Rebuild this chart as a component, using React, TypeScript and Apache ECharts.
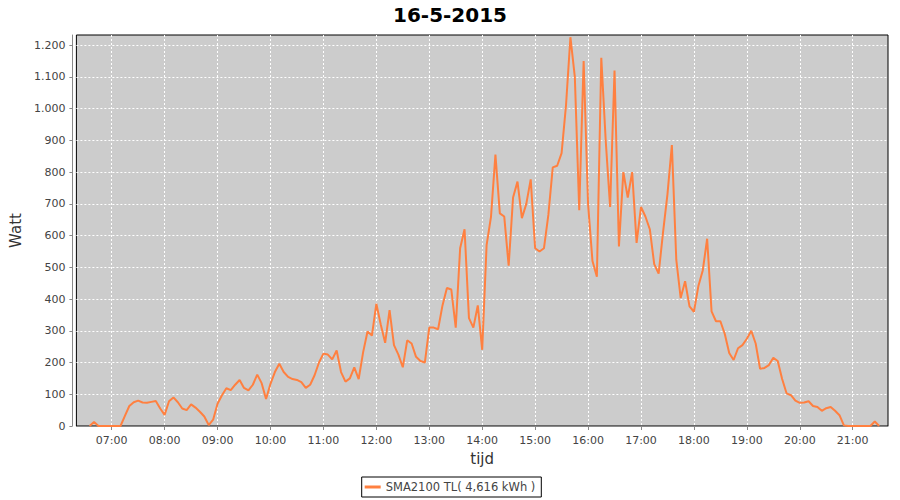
import React, { useEffect, useRef } from "react";
import * as echarts from "echarts";

// time categories: 06:20 .. 21:40 every 5 minutes
const categories: string[] = [];
for (let m = 6 * 60 + 20; m <= 21 * 60 + 40; m += 5) {
  const h = Math.floor(m / 60);
  const mm = m % 60;
  categories.push(`${h < 10 ? "0" : ""}${h}:${mm < 10 ? "0" : ""}${mm}`);
}

// Watt values, one per 5 minutes
const early: (number | null)[] = [
  null, null, null, 0, 13, 0, 0, 0, 0, 0, 0, 32, 63, 75, 80, 74, 73, 76, 79, 55,
];
const morning: (number | null)[] = [
  35, 78, 90, 75, 55, 50, 68, 58, 45, 30, 3, 20, 70, 97, 119, 113, 130, 145, 120, 112,
  130, 162, 135, 85, 133, 170, 196, 170, 155, 148, 145, 138, 120, 130, 160, 200,
];
const midday: (number | null)[] = [
  228, 225, 210, 238, 170, 140, 150, 185, 148, 232, 298, 285, 385, 320, 262, 365, 255, 225,
  185, 270, 260, 218, 205, 200, 310, 310, 305, 380, 435, 430, 310, 560, 620, 340, 310, 380,
];
const afternoon: (number | null)[] = [
  240, 570, 660, 855, 670, 660, 505, 720, 770, 655, 700, 777, 560, 550, 560, 665, 815, 820,
  860, 1010, 1225, 1100, 680, 1150, 700, 520, 470, 1160, 900, 690, 1120, 566, 800, 720, 800, 577,
];
const evening: (number | null)[] = [
  690, 660, 620, 510, 480, 610, 730, 885, 524, 403, 456, 377, 360, 440, 490, 590, 361, 330,
  330, 290, 230, 208, 245, 255, 275, 300, 260, 180, 183, 192, 215, 205, 148, 103, 97, 80,
];
const night: (number | null)[] = [
  73, 74, 78, 63, 60, 48, 56, 60, 48, 34, 2, 0, 0, 0, 0, 0, 0, 14, 0, null, null, null,
];
const watts = [...early, ...morning, ...midday, ...afternoon, ...evening, ...night];

const seriesName = "SMA2100 TL( 4,616 kWh )";
const titleText = "16-5-2015";
const FONT = "DejaVu Sans";

const isHour = (_i: number, v: string) => typeof v === "string" && v.endsWith(":00");

export default function App() {
  const ref = useRef<HTMLDivElement>(null);
  useEffect(() => {
    if (!ref.current) return;
    const chart = echarts.init(ref.current, undefined, { renderer: "svg" });
    chart.setOption({
      animation: false,
      backgroundColor: "#ffffff",
      textStyle: { fontFamily: FONT },
      title: {
        text: titleText,
        left: "center",
        top: 0,
        textStyle: { fontSize: 20, fontWeight: "bold", color: "#000", fontFamily: FONT },
      },
      grid: {
        left: 75,
        right: 12,
        top: 35,
        bottom: 74,
        show: true,
        backgroundColor: "#cccccc",
        borderColor: "#000",
        borderWidth: 1,
      },
      legend: {
        top: 477,
        left: "center",
        icon: "rect",
        itemWidth: 16,
        itemHeight: 3,
        borderColor: "#000",
        borderWidth: 1,
        borderRadius: 0,
        padding: [4, 6, 4, 3],
        textStyle: { fontSize: 11.5, color: "#444", fontFamily: FONT },
        data: [seriesName],
      },
      xAxis: {
        type: "category",
        data: categories,
        boundaryGap: false,
        offset: 4,
        name: "tijd",
        nameLocation: "middle",
        nameGap: 21,
        nameTextStyle: { fontSize: 15, color: "#333", fontFamily: FONT },
        axisLine: { show: true, lineStyle: { color: "#888", width: 1 } },
        axisTick: { show: true, interval: isHour, length: 4, lineStyle: { color: "#888" } },
        axisLabel: { interval: isHour, color: "#444", fontSize: 11, margin: 5, fontFamily: FONT },
        splitLine: {
          show: true,
          interval: isHour,
          lineStyle: { color: "#ffffff", type: [2, 2], width: 1 },
        },
      },
      yAxis: {
        type: "value",
        min: 0,
        max: 1232,
        interval: 100,
        offset: 4,
        name: "Watt",
        nameLocation: "middle",
        nameGap: 42,
        nameTextStyle: { fontSize: 15, color: "#333", fontFamily: FONT },
        axisLine: { show: true, lineStyle: { color: "#888", width: 1 } },
        axisTick: { show: true, length: 3, lineStyle: { color: "#888" } },
        axisLabel: {
          color: "#444",
          fontSize: 11,
          margin: 7,
          fontFamily: FONT,
          showMaxLabel: false,
          formatter: (v: number) =>
            v % 100 === 0 ? String(v).replace(/\B(?=(\d{3})+(?!\d))/g, ".") : "",
        },
        splitLine: {
          show: true,
          showMinLine: false,
          showMaxLine: false,
          lineStyle: { color: "#ffffff", type: [2, 2], width: 1 },
        },
      },
      series: [
        {
          name: seriesName,
          type: "line",
          data: watts,
          showSymbol: false,
          symbol: "none",
          color: "#ff8040",
          lineStyle: { color: "#ff8040", width: 2 },
          connectNulls: false,
        },
      ],
    });
    return () => chart.dispose();
  }, []);
  return (
    <div
      ref={ref}
      style={{ position: "fixed", left: 0, top: 0, width: 900, height: 500 }}
    />
  );
}
